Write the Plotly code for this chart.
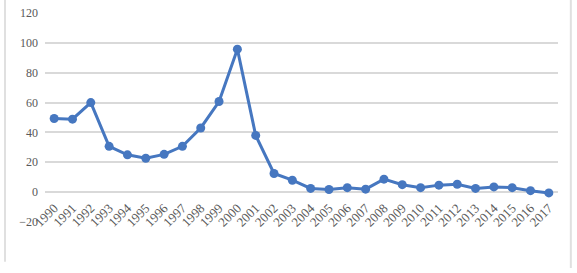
import plotly.graph_objects as go

years = [str(y) for y in range(1990, 2018)]
values = [49.3, 48.9, 60.0, 30.7, 25.0, 22.7, 25.3, 30.7, 43.0, 60.7,
          95.8, 38.0, 12.5, 8.0, 2.5, 1.8, 3.0, 2.0, 8.7, 5.0,
          3.0, 4.7, 5.3, 2.5, 3.5, 3.0, 1.0, -0.5]
y_ticks = [-20, 0, 20, 40, 60, 80, 100, 120]

W, H = 577, 273
L, R, T, B = 45, 19, 13, 51
plot_h = H - T - B
label_pos = 25 / plot_h

fig = go.Figure()
fig.add_trace(go.Scatter(
    x=years, y=values, mode="lines+markers",
    line=dict(color="#4677c0", width=3),
    marker=dict(color="#4677c0", size=9),
    showlegend=False,
))
# invisible trace to carry the category labels on the secondary x axis
fig.add_trace(go.Scatter(
    x=years, y=values, xaxis="x2", yaxis="y", mode="markers",
    marker=dict(opacity=0), hoverinfo="skip", showlegend=False,
))

y_font = dict(family="Liberation Serif", size=12, color="#595959")
x_font = dict(family="Liberation Serif", size=13, color="#595959")
fig.update_layout(
    width=W, height=H,
    margin=dict(l=L, r=R, t=T, b=B, autoexpand=False),
    paper_bgcolor="white", plot_bgcolor="white",
    xaxis=dict(
        type="category", range=[-0.5, 27.5],
        showgrid=False, showline=False, zeroline=False, ticks="",
        showticklabels=False, automargin=False,
    ),
    xaxis2=dict(
        type="category", range=[-0.5, 27.5], overlaying="x",
        anchor="free", position=label_pos, side="bottom",
        showgrid=False, showline=False, zeroline=False, ticks="",
        tickangle=-45, tickfont=x_font, automargin=False,
    ),
    yaxis=dict(
        range=[-20, 120], tickvals=y_ticks,
        showgrid=True, gridcolor="#d9d9d9", gridwidth=2,
        zeroline=False, showline=False, ticks="",
        ticklabelstandoff=6, automargin=False,
        tickfont=y_font,
    ),
    shapes=[
        dict(type="line", xref="paper", yref="paper",
             x0=-0.078, x1=-0.078, y0=-0.19, y1=1.07,
             line=dict(color="#e0e0e0", width=2)),
        dict(type="line", xref="paper", yref="paper",
             x0=1.025, x1=1.025, y0=-0.22, y1=1.07,
             line=dict(color="#e0e0e0", width=2)),
    ],
)

fig.write_html("out.html", config={"displayModeBar": False},
               post_script="document.body.style.margin='0';document.body.style.padding='0';")
